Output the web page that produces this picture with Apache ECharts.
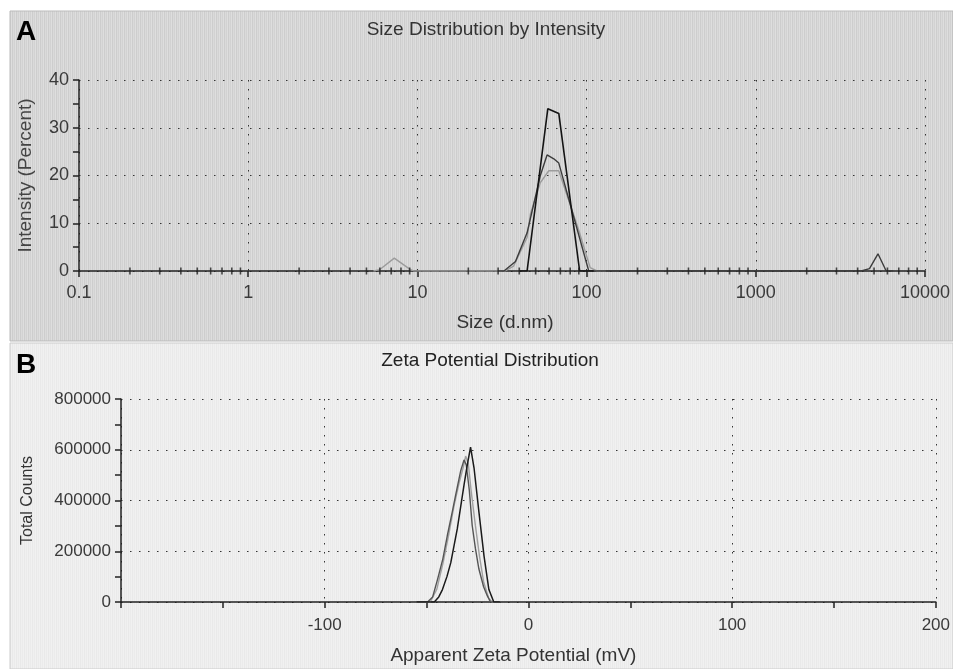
<!DOCTYPE html>
<html>
<head>
<meta charset="utf-8">
<script src="https://cdn.jsdelivr.net/npm/echarts@6/dist/echarts.min.js"></script>
<style>
  html, body { margin: 0; padding: 0; background: #fff; }
  #main { width: 953px; height: 669px; }
</style>
</head>
<body>
<div id="main"></div>
<script>
// 粒径分布 (A) 数据: [size d.nm, intensity %]
var sizeRun1 = [[40, 0], [44.5, 0], [59, 34], [68.5, 33], [91, 0], [110, 0]];
var sizeRun2 = [[30, 0], [32.5, 0], [38, 2], [44.5, 8], [53.3, 20], [58.4, 24.3], [64, 23.5], [68.5, 22.6], [103, 0], [120, 0],
  [4200, 0], [4700, 0.5], [5275, 3.6], [5900, 0], [6500, 0]];
var sizeRun3 = [[5.5, 0], [6, 0.3], [7.3, 2.7], [9.1, 0.3], [9.5, 0],
  [33, 0], [37, 1], [44.5, 7], [46.6, 12], [53.3, 18.5], [59.8, 21], [68.5, 21], [89.8, 8.6], [105, 0.7], [115, 0], [130, 0]];
var sizeMinorTicks = [0.2, 0.3, 0.4, 0.5, 0.6, 0.7, 0.8, 0.9,
  2, 3, 4, 5, 6, 7, 8, 9,
  20, 30, 40, 50, 60, 70, 80, 90,
  200, 300, 400, 500, 600, 700, 800, 900,
  2000, 3000, 4000, 5000, 6000, 7000, 8000, 9000];
var sizeTickLabels = ['0.1', '1', '10', '100', '1000', '10000'];

// Zeta 电位 (B) 数据: [mV, counts]
var zetaRun1 = [[-55, 0], [-49.5, 0], [-47, 20000], [-44.6, 89000], [-42, 170000], [-39.8, 262000], [-37.5, 350000],
  [-35.7, 422000], [-33.3, 515000], [-31.6, 560000], [-30.5, 540000], [-29, 440000], [-27.6, 302000], [-26, 210000],
  [-24.3, 130000], [-22, 60000], [-20.2, 25000], [-18.6, 0], [-14, 0]];
var zetaRun2 = [[-55, 0], [-48.2, 0], [-45, 50000], [-42, 150000], [-39, 270000], [-36.5, 380000], [-34, 470000],
  [-32, 530000], [-30.8, 575000], [-29.5, 545000], [-28, 430000], [-26, 300000], [-24, 180000], [-22, 80000],
  [-19.5, 15000], [-17.8, 0], [-14, 0]];
var zetaRun3 = [[-55, 0], [-46.2, 0], [-44, 20000], [-42.2, 49000], [-40, 100000], [-38.1, 155000], [-34.9, 289000],
  [-31.6, 462000], [-30, 540000], [-28.4, 610000], [-26.7, 529000], [-24.3, 355000], [-21.8, 182000],
  [-19.4, 49000], [-17, 0], [-14, 0]];
var zetaTickLabels = ['-100', '0', '100', '200'];

var FONT = '"Liberation Sans", Arial, sans-serif';

// 背景竖条纹
function stripes(colors) {
  var c = document.createElement('canvas');
  c.width = colors.length;
  c.height = 1;
  var ctx = c.getContext('2d');
  colors.forEach(function (col, i) {
    ctx.fillStyle = col;
    ctx.fillRect(i, 0, 1, 1);
  });
  return c;
}

var chart = echarts.init(document.getElementById('main'));

var dotted = { color: '#333', width: 1, type: [1.5, 7.5] };
var axisText = { color: '#3a3a3a', fontFamily: FONT };
var tickStyle = { color: '#222', width: 1.5 };

var option = {
  animation: false,
  backgroundColor: '#fff',
  graphic: [{
    type: 'rect', z: -10,
    shape: { x: 10, y: 11, width: 943, height: 330 },
    style: { fill: { image: stripes(['#cdcdcd', '#dadada', '#d2d2d2', '#dedede']), repeat: 'repeat' }, stroke: '#bbb' }
  }, {
    type: 'rect', z: -10,
    shape: { x: 10, y: 343, width: 943, height: 326 },
    style: { fill: { image: stripes(['#e9e9e9', '#f0f0f0', '#ebebeb', '#f1f1f1']), repeat: 'repeat' }, stroke: '#ccc' }
  }],
  title: [{
    text: 'A', left: 11, top: 13,
    textStyle: { fontSize: 28, fontWeight: 'bold', color: '#000', fontFamily: FONT }
  }, {
    text: 'Size Distribution by Intensity', left: 481, top: 15, textAlign: 'center',
    textStyle: { fontSize: 19, fontWeight: 'normal', color: '#333', fontFamily: FONT }
  }, {
    text: 'B', left: 11, top: 346,
    textStyle: { fontSize: 28, fontWeight: 'bold', color: '#000', fontFamily: FONT }
  }, {
    text: 'Zeta Potential Distribution', left: 485, top: 346, textAlign: 'center',
    textStyle: { fontSize: 19, fontWeight: 'normal', color: '#222', fontFamily: FONT }
  }],
  grid: [
    { left: 79, right: 26, top: 80, height: 191 },
    { left: 121, right: 16, top: 399, height: 203 }
  ],
  xAxis: [{
    gridIndex: 0, type: 'log', logBase: 10, min: 0.1, max: 10000,
    name: 'Size (d.nm)', nameLocation: 'middle', nameGap: 42,
    nameTextStyle: { fontSize: 19, color: '#333', fontFamily: FONT, padding: [0, 0, 0, 6] },
    axisLine: { onZero: false, lineStyle: { color: '#222', width: 1.5 } },
    axisTick: { length: 6, lineStyle: tickStyle },
    axisLabel: Object.assign({ fontSize: 18, margin: 13, formatter: function (v) {
      var i = Math.round(Math.log10(v)) + 1;
      return sizeTickLabels[i] !== undefined ? sizeTickLabels[i] : '';
    } }, axisText),
    splitLine: { show: true, lineStyle: dotted }
  }, {
    gridIndex: 1, type: 'value', min: -200, max: 200, interval: 100,
    name: 'Apparent Zeta Potential (mV)', nameLocation: 'middle', nameGap: 44,
    nameTextStyle: { fontSize: 19, color: '#333', fontFamily: FONT, padding: [0, 30, 0, 0] },
    axisLine: { onZero: false, lineStyle: { color: '#222', width: 1.5 } },
    axisTick: { length: 6, lineStyle: tickStyle },
    minorTick: { show: true, splitNumber: 2, length: 6, lineStyle: tickStyle },
    axisLabel: Object.assign({ fontSize: 17, margin: 15, formatter: function (v) {
      var i = Math.round((v + 100) / 100);
      return v === -200 ? '' : zetaTickLabels[i];
    } }, axisText),
    splitLine: { show: true, lineStyle: dotted }
  }],
  yAxis: [{
    gridIndex: 0, type: 'value', min: 0, max: 40, interval: 10,
    name: 'Intensity (Percent)', nameLocation: 'middle', nameGap: 44,
    nameTextStyle: { fontSize: 19, color: '#444', fontFamily: FONT },
    axisLine: { show: true, onZero: false, lineStyle: { color: '#222', width: 1.5 } },
    axisTick: { show: true, length: 6, lineStyle: tickStyle },
    minorTick: { show: true, splitNumber: 2, length: 6, lineStyle: tickStyle },
    axisLabel: Object.assign({ fontSize: 18, margin: 10 }, axisText),
    splitLine: { show: true, lineStyle: dotted }
  }, {
    gridIndex: 1, type: 'value', min: 0, max: 800000, interval: 200000,
    name: 'Total Counts', nameLocation: 'middle', nameGap: 85,
    nameTextStyle: { fontSize: 16, color: '#333', fontFamily: FONT },
    axisLine: { show: true, onZero: false, lineStyle: { color: '#222', width: 1.5 } },
    axisTick: { show: true, length: 6, lineStyle: tickStyle },
    minorTick: { show: true, splitNumber: 2, length: 6, lineStyle: tickStyle },
    axisLabel: Object.assign({ fontSize: 17, margin: 10, formatter: function (v) { return String(v); } }, axisText),
    splitLine: { show: true, lineStyle: dotted }
  }],
  series: [{
    type: 'line', xAxisIndex: 0, yAxisIndex: 0, data: sizeRun3, symbol: 'none',
    lineStyle: { color: '#9c9c9c', width: 1.4 }
  }, {
    type: 'line', xAxisIndex: 0, yAxisIndex: 0, data: sizeRun2, symbol: 'none',
    lineStyle: { color: '#3c3c3c', width: 1.4 }
  }, {
    type: 'line', xAxisIndex: 0, yAxisIndex: 0, data: sizeRun1, symbol: 'none',
    lineStyle: { color: '#141414', width: 1.6 }
  }, {
    // 对数轴的小刻度
    type: 'scatter', xAxisIndex: 0, yAxisIndex: 0, silent: true, z: 5,
    data: sizeMinorTicks.map(function (v) { return [v, 0]; }),
    symbol: 'rect', symbolSize: [1.6, 7], itemStyle: { color: '#222' }
  }, {
    type: 'line', xAxisIndex: 1, yAxisIndex: 1, data: zetaRun2, symbol: 'none',
    lineStyle: { color: '#a0a0a0', width: 1.4 }
  }, {
    type: 'line', xAxisIndex: 1, yAxisIndex: 1, data: zetaRun1, symbol: 'none',
    lineStyle: { color: '#555', width: 1.4 }
  }, {
    type: 'line', xAxisIndex: 1, yAxisIndex: 1, data: zetaRun3, symbol: 'none',
    lineStyle: { color: '#1a1a1a', width: 1.5 }
  }]
};

chart.setOption(option);
</script>
</body>
</html>
